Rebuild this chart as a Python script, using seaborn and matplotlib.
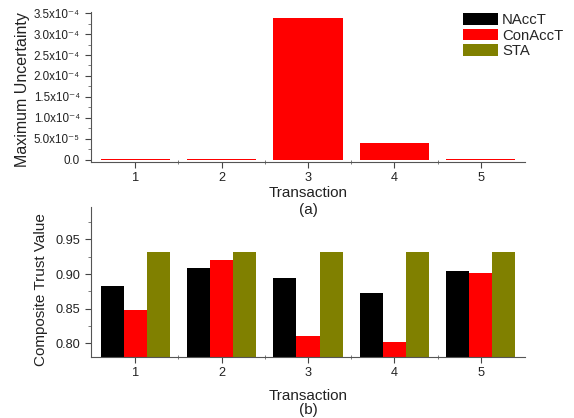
import numpy as np
import pandas as pd
import matplotlib
matplotlib.use("Agg")
import matplotlib.pyplot as plt
import matplotlib.ticker as mticker
from matplotlib.patches import Patch
import seaborn as sns

# datos
transacciones = ["1", "2", "3", "4", "5"]
series = ["NAccT", "ConAccT", "STA"]
colores = ["#000000", "#FF0000", "#808000"]

# (a) incertidumbre maxima (solo ConAccT visible)
incert_conacct = [3.0e-6, 3.0e-6, 3.39e-4, 4.0e-5, 3.0e-6]

# (b) valor de confianza compuesto
trust_nacct = [0.883, 0.909, 0.894, 0.8725, 0.905]
trust_conacct = [0.8486, 0.9207, 0.8105, 0.8014, 0.901]
trust_sta = [0.932, 0.932, 0.932, 0.932, 0.932]

ytick_a = [0.0, 5.0e-5, 1.0e-4, 1.5e-4, 2.0e-4, 2.5e-4, 3.0e-4, 3.5e-4]
ytick_a_labels = ["0.0", "5.0x10⁻⁵", "1.0x10⁻⁴", "1.5x10⁻⁴",
                  "2.0x10⁻⁴", "2.5x10⁻⁴", "3.0x10⁻⁴", "3.5x10⁻⁴"]
ytick_b = [0.80, 0.85, 0.90, 0.95]

sns.set_style("ticks")
plt.rcParams["font.family"] = ["Liberation Sans", "DejaVu Sans"]

W, H = 574, 418
fig = plt.figure(figsize=(W / 100, H / 100), dpi=100)
ax1 = fig.add_axes([91 / W, 1 - 162 / H, 434 / W, 150 / H])
ax2 = fig.add_axes([91 / W, 1 - 357 / H, 434 / W, 150 / H])
ax1.patch.set_alpha(0)
ax2.patch.set_alpha(0)

# panel (a)
df_a = pd.DataFrame({"Transaction": transacciones, "Valor": incert_conacct})
sns.barplot(data=df_a, x="Transaction", y="Valor", color="#FF0000",
            saturation=1, width=0.8, ax=ax1, linewidth=0)
ax1.set_ylim(-4.8e-6, 3.524e-4)
ax1.set_yticks(ytick_a)
ax1.set_yticklabels(ytick_a_labels)
ax1.yaxis.set_minor_locator(mticker.MultipleLocator(2.5e-5))
ax1.set_ylabel("")
ax1.set_xlabel("")

# panel (b)
df_b = pd.DataFrame({
    "Transaction": transacciones * 3,
    "Serie": np.repeat(series, len(transacciones)),
    "Valor": trust_nacct + trust_conacct + trust_sta,
})
sns.barplot(data=df_b, x="Transaction", y="Valor", hue="Serie",
            hue_order=series, palette=colores, saturation=1, width=0.8,
            ax=ax2, linewidth=0, legend=False)
ax2.set_ylim(0.78, 0.997)
ax2.set_yticks(ytick_b)
ax2.set_yticklabels([f"{v:.2f}" for v in ytick_b])
ax2.yaxis.set_minor_locator(mticker.MultipleLocator(0.025))
ax2.set_ylabel("")
ax2.set_xlabel("")

for ax in (ax1, ax2):
    ax.set_xlim(-0.51, 4.51)
    ax.set_xticks(range(5))
    ax.set_xticklabels(transacciones)
    ax.xaxis.set_minor_locator(mticker.FixedLocator(np.arange(0.5, 4.0, 1.0)))
    ax.tick_params(axis="both", which="major", labelsize=9.2, length=4,
                   width=0.8, colors="#444444", labelcolor="#222222")
    ax.tick_params(axis="y", which="minor", length=2, width=0.6, colors="#666666")
    ax.tick_params(axis="x", which="minor", length=3, width=0.6,
                   direction="inout", colors="#666666")
    for s in ("top", "right"):
        ax.spines[s].set_visible(False)
    for s in ("left", "bottom"):
        ax.spines[s].set_color("#555555")
        ax.spines[s].set_linewidth(0.8)
ax1.tick_params(axis="y", which="major", labelsize=8.4, pad=4)

# titulos de ejes y etiquetas (a), (b)
txt = dict(color="#222222", ha="center", va="center")
fig.text(23 / W, 1 - 90 / H, "Maximum Uncertainty", rotation=90, fontsize=11.5, **txt)
fig.text(41 / W, 1 - 290 / H, "Composite Trust Value", rotation=90, fontsize=11, **txt)
fig.text(308 / W, 1 - 193 / H, "Transaction", fontsize=11, **txt)
fig.text(308 / W, 1 - 210 / H, "(a)", fontsize=11, **txt)
fig.text(308 / W, 1 - 396 / H, "Transaction", fontsize=11, **txt)
fig.text(308 / W, 1 - 410 / H, "(b)", fontsize=11, **txt)

handles = [Patch(facecolor=c, edgecolor="none", label=s) for s, c in zip(series, colores)]
fig.legend(handles=handles, loc="upper left", bbox_to_anchor=(463 / W, 1 - 13 / H),
           frameon=False, fontsize=10.7, handlelength=2.36, handleheight=0.85,
           labelspacing=0.1, handletextpad=0.27, borderpad=0.0, borderaxespad=0.0)

fig.savefig("out.png", dpi=100)
